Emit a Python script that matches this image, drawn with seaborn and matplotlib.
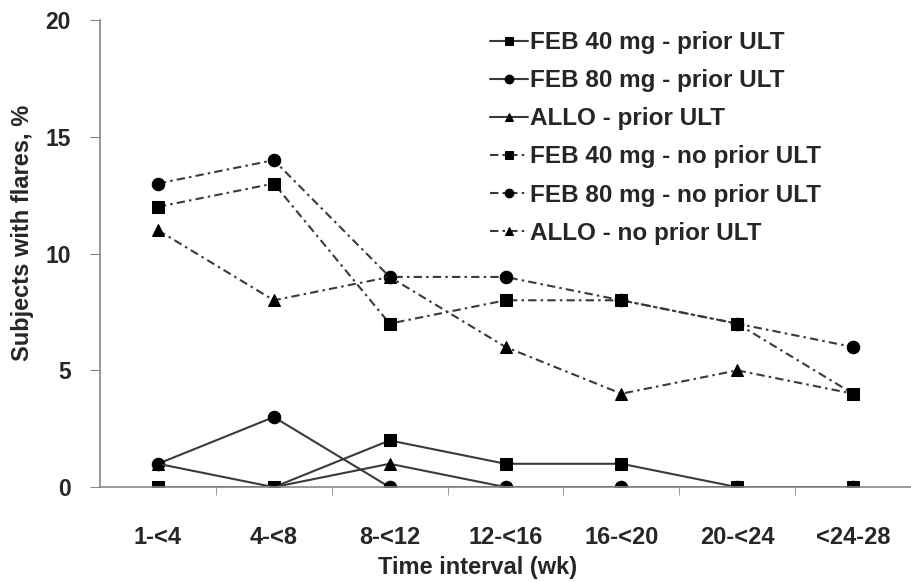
#!/usr/bin/env python3
"""
    Gout flares by time interval, prior vs no prior ULT
"""
import matplotlib
matplotlib.use("Agg")
import matplotlib.pyplot as plt
import seaborn as sns

intervals = ["1-<4", "4-<8", "8-<12", "12-<16", "16-<20", "20-<24", "<24-28"]

series_names = [
    "FEB 40 mg - prior ULT",
    "FEB 80 mg - prior ULT",
    "ALLO - prior ULT",
    "FEB 40 mg - no prior ULT",
    "FEB 80 mg - no prior ULT",
    "ALLO - no prior ULT",
]
feb40_prior = [0, 0, 2, 1, 1, 0, 0]
feb80_prior = [1, 3, 0, 0, 0, 0, 0]
allo_prior = [1, 0, 1, 0, 0, 0, 0]
feb40_noprior = [12, 13, 7, 8, 8, 7, 4]
feb80_noprior = [13, 14, 9, 9, 8, 7, 6]
allo_noprior = [11, 8, 9, 6, 4, 5, 4]

values = [feb40_prior, feb80_prior, allo_prior,
          feb40_noprior, feb80_noprior, allo_noprior]
markers = ["s", "o", "^", "s", "o", "^"]
dashdot = (0, (4, 2, 1.2, 2))
styles = ["-", "-", "-", dashdot, dashdot, dashdot]

sns.set_style("white")
plt.rcParams["font.family"] = ["Liberation Sans", "DejaVu Sans"]
plt.rcParams["font.weight"] = "bold"

fig = plt.figure(figsize=(9.11, 5.82), dpi=100)
ax = fig.add_axes([0.1098, 0.163, 0.8902, 0.8026])

pos = list(range(len(intervals)))
for name, vals, mk, ls in zip(series_names, values, markers, styles):
    sns.lineplot(x=pos, y=vals, ax=ax, color="#3a3a3a", linewidth=1.5,
                 linestyle=ls, marker=mk, markersize=9,
                 markerfacecolor="black", markeredgecolor="black",
                 label=name)

ax.set_xlim(-0.5, 6.39)
ax.set_ylim(0, 20)
ax.set_yticks([0, 5, 10, 15, 20])
ax.set_xticks(pos)
ax.set_xticklabels(intervals)
ax.set_xticks([p + 0.5 for p in pos], minor=True)
ax.tick_params(axis="x", which="major", length=0, labelsize=17, pad=28)
ax.tick_params(axis="x", which="minor", length=6, color="#888888",
               direction="out", bottom=True)
ax.tick_params(axis="y", length=7, color="#888888", direction="out",
               labelsize=16.5, pad=14, left=True)

for side in ["top", "right"]:
    ax.spines[side].set_visible(False)
for side in ["left", "bottom"]:
    ax.spines[side].set_color("#888888")
    ax.spines[side].set_linewidth(1.2)

ax.set_xlabel("Time interval (wk)", fontsize=17, fontweight="bold")
ax.xaxis.set_label_coords(0.466, -0.148)
ax.set_ylabel("Subjects with flares, %", fontsize=17, fontweight="bold")
ax.yaxis.set_label_coords(-0.081, 0.544)

leg = ax.legend(loc="upper left", bbox_to_anchor=(0.466, 1.002), frameon=False,
                fontsize=17.5, handlelength=1.55, handletextpad=0.1,
                labelspacing=0.62, borderpad=0, markerscale=0.7)

fig.savefig("out.png", dpi=100)
